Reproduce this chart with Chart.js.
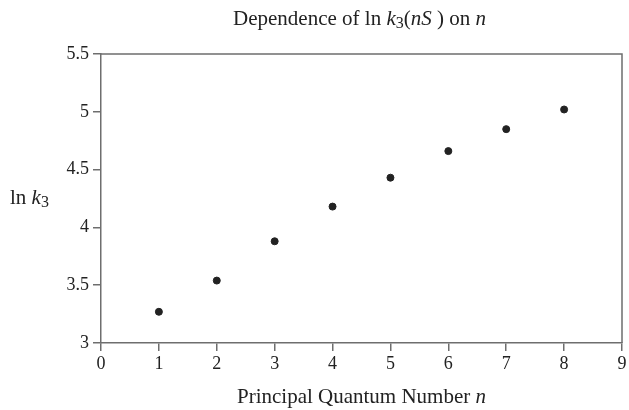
<!DOCTYPE html>
<html>
<head>
<meta charset="utf-8">
<script src="https://cdn.jsdelivr.net/npm/chart.js@4.4.0/dist/chart.umd.min.js"></script>
<style>
  html, body { margin: 0; padding: 0; background: #fff; }
  #wrap { width: 629px; height: 410px; }
</style>
</head>
<body>
<div id="wrap"><canvas id="chart"></canvas></div>
<script>
// datos
const nValues = [1, 2, 3, 4, 5, 6, 7, 8];
const lnK3 = [3.27, 3.54, 3.88, 4.18, 4.43, 4.66, 4.85, 5.02];
const xTicks = [0, 1, 2, 3, 4, 5, 6, 7, 8, 9];
const yTicks = [3, 3.5, 4, 4.5, 5, 5.5];

const FONT = "'Liberation Serif', 'Times New Roman', serif";
const TEXT = "#222";
const AXIS = "#6e6e6e";

// trozos de texto con cursiva / subindice
const titleParts = [
  { t: "Dependence of ln " },
  { t: "k", it: true },
  { t: "3", sub: true },
  { t: "(" },
  { t: "nS", it: true },
  { t: " ) on " },
  { t: "n", it: true },
];
const yLabelParts = [{ t: "ln " }, { t: "k", it: true }, { t: "3", sub: true }];
const xLabelParts = [{ t: "Principal Quantum Number " }, { t: "n", it: true }];

function partFont(p, size) {
  const s = p.sub ? Math.round(size * 0.75) : size;
  return (p.it ? "italic " : "") + s + "px " + FONT;
}

function drawRich(ctx, parts, x, y, size, align) {
  let w = 0;
  parts.forEach(p => { ctx.font = partFont(p, size); w += ctx.measureText(p.t).width; });
  let cx = align === "center" ? x - w / 2 : x;
  ctx.textBaseline = "alphabetic";
  ctx.textAlign = "left";
  parts.forEach(p => {
    ctx.font = partFont(p, size);
    ctx.fillText(p.t, cx, p.sub ? y + size * 0.15 : y);
    cx += ctx.measureText(p.t).width;
  });
}

// marco y textos
const decor = {
  id: "decor",
  afterDraw(chart) {
    const { ctx, chartArea: a } = chart;
    ctx.save();
    ctx.strokeStyle = AXIS;
    ctx.lineWidth = 1.5;
    ctx.beginPath();
    ctx.moveTo(a.left, a.top);
    ctx.lineTo(a.right, a.top);
    ctx.lineTo(a.right, a.bottom);
    ctx.stroke();
    ctx.fillStyle = TEXT;
    const mid = (a.left + a.right) / 2;
    drawRich(ctx, titleParts, mid - 2, 25, 21, "center");
    drawRich(ctx, xLabelParts, mid, 403, 21, "center");
    drawRich(ctx, yLabelParts, 10, 204, 21, "left");
    ctx.restore();
  }
};

new Chart(document.getElementById("chart"), {
  type: "scatter",
  data: {
    datasets: [{
      data: nValues.map((n, i) => ({ x: n, y: lnK3[i] })),
      backgroundColor: "#222",
      borderColor: "#222",
      pointRadius: 3.5,
      pointHoverRadius: 3.5,
    }],
  },
  options: {
    responsive: true,
    maintainAspectRatio: false,
    animation: false,
    layout: { padding: { top: 54, right: 7, left: 0, bottom: 0 } },
    plugins: { legend: { display: false }, tooltip: { enabled: false } },
    scales: {
      x: {
        type: "linear",
        min: xTicks[0],
        max: xTicks[xTicks.length - 1],
        afterBuildTicks: s => { s.ticks = xTicks.map(v => ({ value: v })); },
        afterFit: s => { s.height = 67; },
        grid: { drawOnChartArea: false, tickLength: 8, color: AXIS, lineWidth: 1.5 },
        border: { color: AXIS, width: 1.5 },
        ticks: { color: TEXT, padding: 2, font: { family: FONT, size: 18 }, maxRotation: 0 },
      },
      y: {
        type: "linear",
        min: yTicks[0],
        max: yTicks[yTicks.length - 1],
        afterBuildTicks: s => { s.ticks = yTicks.map(v => ({ value: v })); },
        afterFit: s => { s.width = 101; },
        grid: { drawOnChartArea: false, tickLength: 8, color: AXIS, lineWidth: 1.5 },
        border: { color: AXIS, width: 1.5 },
        ticks: { color: TEXT, padding: 4, font: { family: FONT, size: 18 }, callback: v => String(v) },
      },
    },
  },
  plugins: [decor],
});
</script>
</body>
</html>
